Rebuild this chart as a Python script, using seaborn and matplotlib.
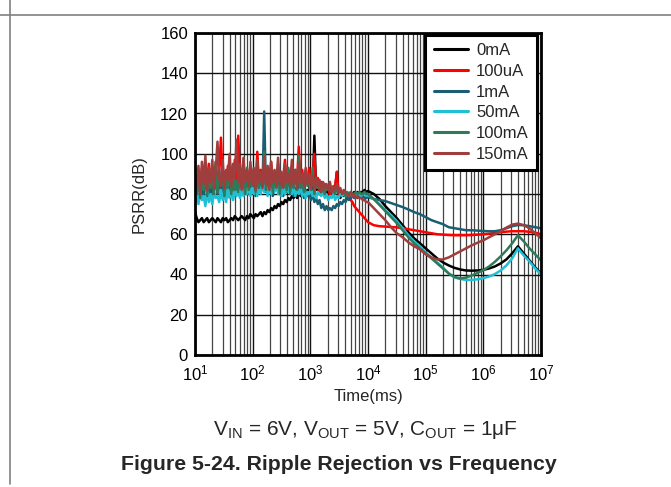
import numpy as np
import pandas as pd
import matplotlib
matplotlib.use("Agg")
import matplotlib.pyplot as plt
from matplotlib.ticker import LogLocator, NullFormatter, LogFormatterSciNotation
import matplotlib.lines as mlines
import seaborn as sns

# ---------------- data ----------------
series_names = ["0mA", "100uA", "1mA", "50mA", "100mA", "150mA"]
series_colors = ["#000000", "#FF0000", "#1A5E73", "#1EC0D6", "#2F7A58", "#A03E3E"]

# sampling grids (log10 of frequency)
noise_log_f = 1.0 + 0.03 * np.arange(100)         # 10 Hz .. ~9.3 kHz
tail_log_f = np.linspace(4.0, 7.0, 31)            # 10 kHz .. 10 MHz

psrr_0mA_noise = [71, 68, 66, 67, 68, 66, 67, 68, 66, 67,
                  68, 67, 66, 68, 67, 66, 68, 67, 68, 66,
                  67, 68, 67, 69, 68, 67, 68, 69, 68, 67,
                  69, 68, 70, 69, 68, 70, 69, 70, 71, 69,
                  71, 70, 72, 71, 73, 72, 74, 73, 75, 74,
                  76, 75, 77, 76, 78, 77, 79, 78, 80, 78,
                  81, 79, 80, 83, 79, 82, 80, 83, 81, 109,
                  82, 84, 80, 83, 81, 79, 82, 80, 83, 81,
                  80, 82, 91, 80, 78, 80, 79, 81, 79, 80,
                  79, 80, 81, 80, 81, 80, 81, 81, 82, 81]
psrr_0mA_tail = [81.5, 80, 77.5, 74, 71, 68, 64.5, 61, 58, 55.5, 53, 50.5, 48, 46, 44.5, 43.3, 42.5, 42, 41.9, 42,
                 42.3, 43, 44, 45.5, 47.5, 50.5, 54, 50.5, 47, 43.5, 40.5]

psrr_100uA_noise = [88, 82, 91, 84, 93, 83, 89, 86, 95, 84,
                    90, 85, 96, 84, 92, 108, 86, 91, 83, 94,
                    85, 92, 84, 97, 86, 109, 88, 83, 93, 85,
                    90, 84, 94, 86, 91, 83, 101, 85, 92, 86,
                    95, 83, 90, 87, 96, 84, 91, 86, 93, 85,
                    90, 88, 97, 84, 92, 86, 94, 83, 90, 87,
                    103.5, 86, 92, 84, 90, 85, 93, 84, 88, 100,
                    83, 88, 81, 86, 80, 85, 82, 84, 79, 83,
                    80, 84, 91, 80, 82, 79, 81, 80, 78, 79,
                    77, 76, 74, 73, 72, 71, 70, 69, 68, 67]
psrr_100uA_tail = [66, 64.5, 64, 63.8, 63.6, 63.4, 63, 62.5, 62, 61.5, 61, 60.5, 60, 59.8, 59.6, 59.5, 59.5, 59.5,
                   59.6, 59.8, 60, 60.3, 60.6, 61, 61.3, 61.5, 61.5, 61.5, 61.2, 60.8, 60]

psrr_1mA_noise = [84, 79, 88, 80, 86, 78, 90, 81, 85, 79,
                  89, 82, 87, 80, 92, 79, 86, 83, 90, 80,
                  85, 81, 88, 79, 86, 82, 91, 80, 87, 83,
                  89, 80, 86, 82, 90, 79, 87, 83, 88, 82,
                  121, 81, 86, 83, 90, 79, 85, 82, 88, 80,
                  87, 79, 84, 81, 86, 80, 89, 79, 83, 81,
                  86, 80, 83, 78, 82, 79, 81, 77, 80, 76,
                  78, 75, 77, 73, 75, 72, 74, 72, 73, 72,
                  74, 73, 75, 74, 76, 75, 77, 76, 78, 77,
                  78, 79, 78, 79, 78, 79, 78, 79, 78, 78]
psrr_1mA_tail = [78.5, 77.5, 77, 76.5, 75.5, 74.5, 73.5, 72.3, 71, 70, 68.5, 67, 66, 65, 63.5, 63, 62.5, 62, 62,
                 61.8, 61.6, 61.5, 61.5, 62, 63, 64, 64.6, 64.5, 64, 63.5, 63]

psrr_50mA_noise = [76, 80, 75, 81, 77, 79, 74, 82, 76, 80,
                   75, 81, 78, 79, 76, 82, 77, 80, 76, 83,
                   78, 80, 77, 82, 79, 81, 78, 83, 79, 82,
                   80, 84, 79, 83, 80, 85, 79, 84, 80, 86,
                   81, 84, 79, 85, 80, 83, 81, 86, 80, 84,
                   79, 83, 80, 85, 81, 84, 80, 83, 79, 82,
                   80, 84, 79, 82, 78, 81, 80, 83, 79, 82,
                   78, 81, 80, 79, 82, 78, 80, 77, 79, 78,
                   80, 77, 79, 78, 80, 79, 80, 79, 80, 79,
                   80, 79, 80, 80, 79, 80, 79, 80, 80, 79]
psrr_50mA_tail = [79.5, 77.5, 75, 72, 69.5, 66.5, 63, 59.5, 56.5, 54, 51, 48.5, 46, 43.5, 40.5, 38.5, 37.8, 37.3,
                  37.3, 37.6, 38.2, 39, 40.2, 42, 44.5, 48, 53, 49.5, 46.5, 43, 40]

psrr_100mA_noise = [86, 80, 90, 78, 88, 82, 93, 79, 87, 83,
                    91, 80, 96, 81, 89, 84, 92, 79, 88, 83,
                    94, 80, 90, 82, 87, 81, 91, 83, 88, 80,
                    93, 82, 89, 84, 92, 81, 88, 83, 90, 84,
                    101, 82, 89, 84, 92, 81, 88, 83, 95, 80,
                    90, 84, 87, 82, 93, 81, 89, 83, 92, 82,
                    99, 83, 89, 81, 92, 84, 88, 82, 93, 80,
                    87, 83, 86, 81, 85, 80, 84, 82, 83, 81,
                    82, 80, 83, 81, 82, 80, 81, 79, 81, 80,
                    81, 80, 80, 81, 80, 81, 80, 80, 81, 80]
psrr_100mA_tail = [80, 77.5, 74.5, 71.5, 68.5, 65.5, 62, 58.5, 55.5, 53, 50.5, 48, 45.5, 43, 40.5, 38.8, 38, 38.5,
                   39.5, 40.8, 42.2, 44, 46.3, 49, 52, 55.5, 59.5, 56.5, 53, 50, 47]

psrr_150mA_noise = [90, 84, 94, 80, 96, 85, 99, 82, 93, 86,
                    97, 83, 92, 106, 88, 84, 97, 83, 92, 87,
                    100, 84, 95, 88, 107, 86, 95, 82, 98, 86,
                    92, 84, 96, 85, 93, 82, 97, 86, 91, 83,
                    99, 85, 94, 82, 96, 86, 92, 84, 98, 85,
                    91, 83, 95, 86, 90, 84, 97, 85, 92, 83,
                    95, 86, 90, 84, 93, 85, 90, 83, 89, 82,
                    88, 84, 87, 81, 86, 83, 85, 82, 86, 81,
                    84, 82, 85, 81, 83, 80, 82, 81, 80, 79,
                    81, 79, 80, 78, 79, 78, 78, 77, 77, 76]
psrr_150mA_tail = [76, 73, 70, 67, 63.5, 60.5, 58.5, 56, 54, 52.5, 50, 48.5, 47.5, 47.5, 48.5, 50, 51.5, 53, 54.5,
                   55.8, 57, 58.5, 60, 61.5, 63.3, 64.8, 65.3, 64.5, 63, 60.5, 58]

y_ticks = [0, 20, 40, 60, 80, 100, 120, 140, 160]

noise_sets = [psrr_0mA_noise, psrr_100uA_noise, psrr_1mA_noise, psrr_50mA_noise, psrr_100mA_noise, psrr_150mA_noise]
tail_sets = [psrr_0mA_tail, psrr_100uA_tail, psrr_1mA_tail, psrr_50mA_tail, psrr_100mA_tail, psrr_150mA_tail]

rows = []
freq_all = np.concatenate([10 ** noise_log_f, 10 ** tail_log_f])
for name, nz, tl in zip(series_names, noise_sets, tail_sets):
    vals = list(nz) + list(tl)
    for f, v in zip(freq_all, vals):
        rows.append({"freq": f, "psrr": v, "load": name})
df = pd.DataFrame(rows)

# ---------------- style ----------------
sns.set_style("white")
plt.rcParams["font.family"] = ["Liberation Sans", "DejaVu Sans"]
plt.rcParams["mathtext.default"] = "regular"

fig = plt.figure(figsize=(6.71, 4.87), dpi=100)
ax = fig.add_axes([195 / 671, 1 - 355 / 487, (541 - 195) / 671, (355 - 33) / 487])

palette = dict(zip(series_names, series_colors))
sns.lineplot(data=df, x="freq", y="psrr", hue="load", hue_order=series_names, palette=palette,
             sort=False, estimator=None, linewidth=1.8, ax=ax, legend=False, zorder=3)

ax.set_xscale("log")
ax.set_xlim(10, 1e7)
ax.set_ylim(0, 160)
ax.set_yticks(y_ticks)
ax.xaxis.set_major_locator(LogLocator(base=10, numticks=10))
ax.xaxis.set_minor_locator(LogLocator(base=10, subs=np.arange(2, 10), numticks=100))
ax.xaxis.set_minor_formatter(NullFormatter())
ax.xaxis.set_major_formatter(LogFormatterSciNotation())

ax.grid(which="major", axis="both", color="#111111", linewidth=1.0, zorder=1)
ax.grid(which="minor", axis="x", color="#444444", linewidth=0.9, zorder=1)
ax.set_axisbelow(True)
for sp in ax.spines.values():
    sp.set_linewidth(2.0)
    sp.set_color("black")
    sp.set_zorder(5)
ax.tick_params(axis="both", which="both", length=0, labelsize=12, colors="black")
ax.tick_params(axis="y", pad=5)
ax.tick_params(axis="x", pad=6)

ax.set_xlabel("Time(ms)", fontsize=12, labelpad=4)
ax.set_ylabel("PSRR(dB)", fontsize=12, labelpad=10)

handles = [mlines.Line2D([], [], color=c, lw=2.2) for c in series_colors]
leg = ax.legend(handles, series_names, loc="upper right", bbox_to_anchor=(0.9884, 0.9938),
                frameon=True, fancybox=False, framealpha=1, edgecolor="black",
                fontsize=12, handlelength=2.05, handletextpad=0.48, labelspacing=0.34,
                borderpad=0.5, borderaxespad=0.0)
leg.get_frame().set_linewidth(2.2)
leg.set_zorder(6)

# captions
fig.text(365 / 671, 1 - 430 / 487,
         r"V$_{\mathregular{IN}}$ = 6V, V$_{\mathregular{OUT}}$ = 5V, C$_{\mathregular{OUT}}$ = 1μF",
         ha="center", va="center", fontsize=15)
fig.text(339 / 671, 1 - 465 / 487, "Figure 5-24. Ripple Rejection vs Frequency",
         ha="center", va="center", fontsize=15.3, fontweight="bold")

# page frame lines
fig.add_artist(mlines.Line2D([0, 1], [1 - 15 / 487, 1 - 15 / 487], transform=fig.transFigure,
                             color="#808080", lw=1.2))
fig.add_artist(mlines.Line2D([10 / 671, 10 / 671], [1 - 484 / 487, 1], transform=fig.transFigure,
                             color="#808080", lw=1.2))

fig.savefig("out.png", dpi=100)
